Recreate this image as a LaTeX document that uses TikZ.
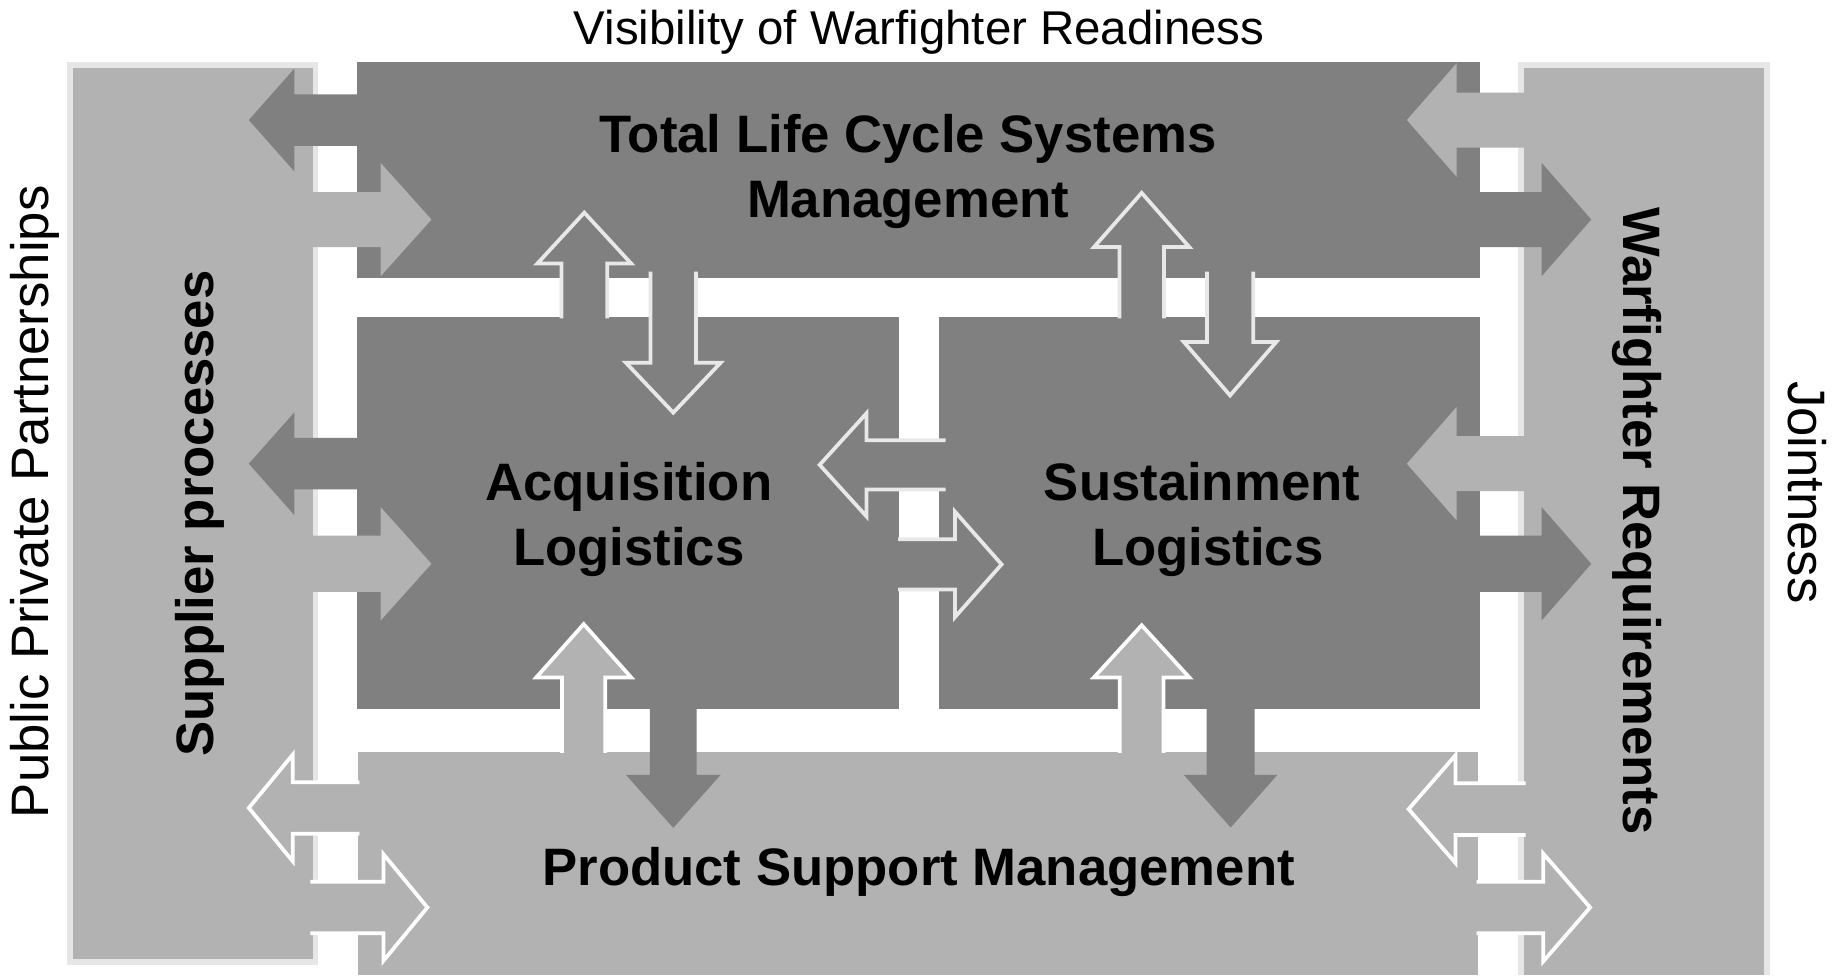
\documentclass[tikz,border=0pt]{standalone}
\usepackage{fontspec}
\setmainfont{Liberation Sans}
\definecolor{dk}{HTML}{808080}
\definecolor{lt}{HTML}{B2B2B2}
\definecolor{rimc}{HTML}{E8E8E8}
\definecolor{edgec}{HTML}{E6E6E6}
\tikzset{
  rim/.style={draw=rimc, line width=3.2pt, line join=miter},
  rimw/.style={draw=white, line width=3.2pt, line join=miter},
  nodraw/.style={draw=none},
  boldlbl/.style={font=\bfseries\fontsize{45}{54}\selectfont, inner sep=0pt, text=black},
  plainlbl/.style={font=\fontsize{45}{54}\selectfont, inner sep=0pt, text=black},
  titlelbl/.style={font=\fontsize{40.5}{48}\selectfont, inner sep=0pt, text=black},
}
% horizontal block arrow: #1 fill colour, #2 outline style, #3 tail x, #4 head base x, #5 tip x, #6 centre y, #7 half shaft, #8 half head
\newcommand\hblockarrow[8]{%
  \fill[#1] (#3,#6-#7) -- (#4,#6-#7) -- (#4,#6-#8) -- (#5,#6) -- (#4,#6+#8) -- (#4,#6+#7) -- (#3,#6+#7) -- cycle;
  \draw[#2] (#3,#6-#7) -- (#4,#6-#7) -- (#4,#6-#8) -- (#5,#6) -- (#4,#6+#8) -- (#4,#6+#7) -- (#3,#6+#7);
}
% vertical block arrow: #3 tail y, #4 head base y, #5 tip y, #6 centre x
\newcommand\vblockarrow[8]{%
  \fill[#1] (#6-#7,#3) -- (#6-#7,#4) -- (#6-#8,#4) -- (#6,#5) -- (#6+#8,#4) -- (#6+#7,#4) -- (#6+#7,#3) -- cycle;
  \draw[#2] (#6-#7,#3) -- (#6-#7,#4) -- (#6-#8,#4) -- (#6,#5) -- (#6+#8,#4) -- (#6+#7,#4) -- (#6+#7,#3);
}
\begin{document}
\begin{tikzpicture}[x=1pt,y=-1pt]
\useasboundingbox (0,0) rectangle (1568,833);
\fill[white] (0,0) rectangle (1568,833);

% side panels
\fill[edgec] (57.5,53) rectangle (272,824);
\fill[lt] (62.5,58) rectangle (267.5,819);
\fill[edgec] (1296.5,53) rectangle (1511.5,833);
\fill[lt] (1301.5,58) rectangle (1506.5,833);

% central blocks
\fill[dk] (305,53) rectangle (1264,237);
\fill[dk] (305,271) rectangle (767.5,605.5);
\fill[dk] (801.5,271) rectangle (1264,605.5);
\fill[lt] (306,642.6) rectangle (1262,833);

% left side arrows
\hblockarrow{dk}{nodraw}{310}{251.5}{212.5}{102.5}{22}{44}
\hblockarrow{lt}{nodraw}{262}{325}{368.5}{187.5}{23.5}{48.5}
\hblockarrow{dk}{nodraw}{310}{251.5}{212.5}{396}{22}{44}
\hblockarrow{lt}{nodraw}{262}{325}{368.5}{481.5}{24}{48.5}
\hblockarrow{lt}{rimw}{307}{250}{212.5}{690}{22}{45.5}
\hblockarrow{lt}{rimw}{265}{327.5}{365}{775}{22}{45.5}

% right side arrows
\hblockarrow{lt}{nodraw}{1304}{1244}{1201.5}{102.5}{23.5}{48.5}
\hblockarrow{dk}{nodraw}{1258}{1316.5}{1359}{187.5}{23.5}{48.5}
\hblockarrow{lt}{nodraw}{1304}{1244}{1201.5}{396}{23.5}{48.5}
\hblockarrow{dk}{nodraw}{1258}{1316.5}{1359}{481.5}{24}{48.5}
\hblockarrow{lt}{rimw}{1303}{1243}{1203}{691}{22}{46}
\hblockarrow{lt}{rimw}{1261}{1318}{1358}{775}{22}{46}

% arrows between TLCSM and the logistics blocks
\vblockarrow{dk}{rim}{272}{225}{181.6}{499}{19.5}{40}
\vblockarrow{dk}{rim}{232}{309.7}{352.4}{575}{19.5}{40.5}
\vblockarrow{dk}{rim}{272}{211}{164.7}{975}{19}{40.7}
\vblockarrow{dk}{rim}{232}{292}{337.7}{1050.5}{19.7}{39.5}

% arrows between the logistics blocks and PSM
\vblockarrow{lt}{rimw}{643}{578.5}{533}{498.5}{18.5}{40.5}
\vblockarrow{dk}{nodraw}{600}{661.7}{707}{575}{20}{40.5}
\vblockarrow{lt}{rimw}{643}{578.5}{534}{975}{18.7}{40.7}
\vblockarrow{dk}{nodraw}{600}{661.7}{706.7}{1051}{20.5}{40}

% arrows between acquisition and sustainment
\hblockarrow{dk}{rim}{807.6}{740}{700}{397}{21}{44}
\hblockarrow{dk}{rim}{767}{815.6}{855.4}{482}{21.4}{45}

% labels
\node[titlelbl, anchor=base] (title) at (785,38.4) {Visibility of Warfighter Readiness};
\node[boldlbl, anchor=base] (tlcsmA) at (775.5,130.4) {Total Life Cycle Systems};
\node[boldlbl, anchor=base] (tlcsmB) at (775.5,186) {Management};
\node[boldlbl, anchor=base] (acqA) at (537,427.3) {Acquisition};
\node[boldlbl, anchor=base] (acqB) at (537,483) {Logistics};
\node[boldlbl, anchor=base] (susA) at (1026.5,427.3) {Sustainment};
\node[boldlbl, anchor=base] (susB) at (1031.5,483) {Logistics};
\node[boldlbl, anchor=base] (psm) at (784.5,756.6) {Product Support Management};
\node[boldlbl, anchor=base, rotate=90] (supp) at (182,438.5) {Supplier processes};
\node[boldlbl, anchor=base, rotate=-90] (warf) at (1386.5,445) {Warfighter Requirements};
\node[plainlbl, anchor=base, rotate=90] (ppp) at (41.3,428.5) {Public Private Partnerships};
\node[plainlbl, anchor=base, rotate=-90] (joint) at (1527,420.5) {Jointness};
\end{tikzpicture}
\end{document}
